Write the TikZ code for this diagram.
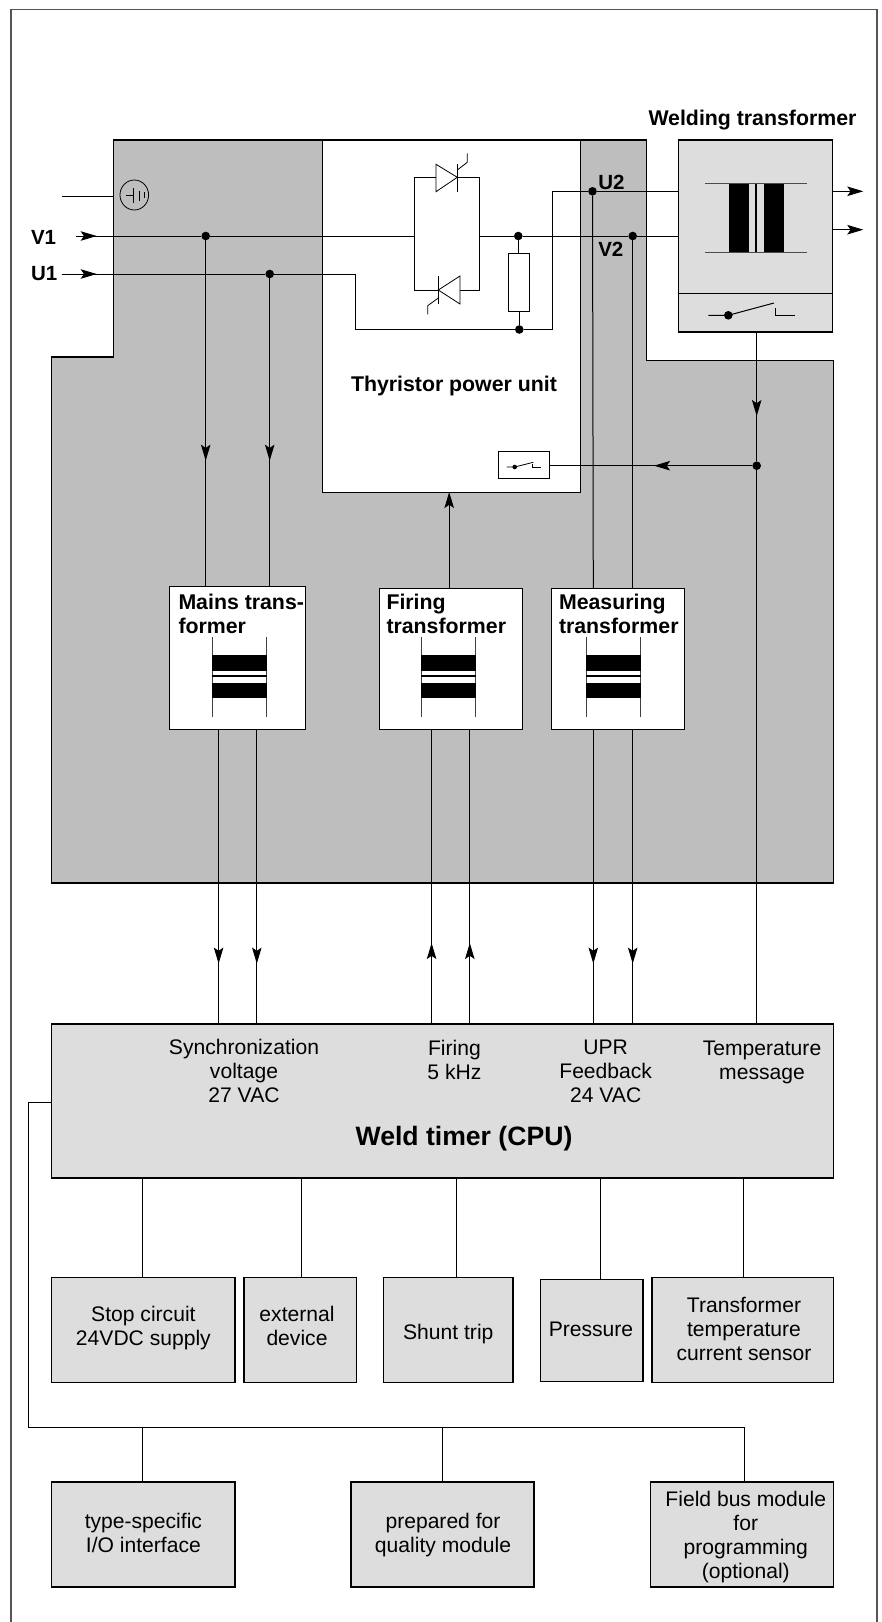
\documentclass[tikz,border=0pt]{standalone}
\usepackage{fontspec}
\setmainfont{Liberation Sans}
\usetikzlibrary{arrows.meta,shapes.geometric}
\definecolor{midgray}{HTML}{BEBEBE}
\definecolor{lightgray2}{HTML}{DDDDDD}
\definecolor{framegray}{HTML}{555555}
\newcommand{\boxat}[6]{%
  \pgfmathsetmacro{\bw}{#5-#3}\pgfmathsetmacro{\bh}{#6-#4}%
  \node[#1,anchor=north west,minimum width=\bw pt,minimum height=\bh pt] (#2) at (#3,#4) {};}
\tikzset{
  x=1pt,y=-1pt,
  wire/.style={line width=1pt,black},
  thin wire/.style={line width=0.8pt,black},
  tip/.style={-{Stealth[length=16pt,width=9.5pt,inset=3.2pt]}},
  grayunit/.style={fill=midgray,draw=black,line width=1.5pt},
  whitebox/.style={draw=black,fill=white,line width=1pt,inner sep=0pt,outer sep=0pt},
  lightbox/.style={draw=black,fill=lightgray2,line width=1.4pt,inner sep=0pt,outer sep=0pt},
  lbl/.style={font=\fontsize{21.1}{23.8}\selectfont,align=center,anchor=base,inner sep=0pt,outer sep=0pt},
  blbl/.style={font=\fontsize{21.3}{23.8}\selectfont\bfseries,align=left,anchor=base west,inner sep=0pt,outer sep=0pt},
  dotn/.style={circle,fill=black,draw=none,minimum size=8.6pt,inner sep=0pt,outer sep=0pt},
  core/.style={fill=black,draw=none},
}
\begin{document}
\begin{tikzpicture}
\useasboundingbox (0,0) rectangle (881,1622);
\fill[white] (0,0) rectangle (881,1622);
% outer frame
\draw[line width=1.6pt,framegray] (10.7,1622) -- (10.7,9.6) -- (877,9.6) -- (877,1622);
% gray unit
\fill[midgray] (113.5,140) -- (646.7,140) -- (646.7,360.7) -- (833.7,360.7) -- (833.7,883) -- (51.7,883) -- (51.7,356.8) -- (113.5,356.8) -- cycle;
\boxat{whitebox}{thy}{322.5}{140}{580}{492}
\draw[grayunit,fill=none] (113.5,140) -- (646.7,140) -- (646.7,360.7) -- (833.7,360.7) -- (833.7,883) -- (51.7,883) -- (51.7,356.8) -- (113.5,356.8) -- cycle;
% welding transformer
\boxat{lightbox}{weld}{678.4}{140}{832.7}{332}
\boxat{whitebox}{sw}{498.3}{451.7}{549}{478.3}
\draw[line width=1.4pt] (weld.west |- 0,293.7) -- (weld.east |- 0,293.7);
% transformers
\boxat{whitebox}{mains}{169.3}{586}{305}{729.3}
\boxat{whitebox}{firing}{379}{588.6}{522}{729.3}
\boxat{whitebox}{meas}{551.7}{588.6}{684}{729.3}
% CPU and peripherals
\boxat{lightbox}{cpu}{51.7}{1024}{833.7}{1178}
\boxat{lightbox}{stop}{51.7}{1277.7}{235}{1382.3}
\boxat{lightbox}{ext}{244}{1277.7}{356.3}{1382.3}
\boxat{lightbox}{shunt}{383.4}{1277.7}{513}{1382.3}
\boxat{lightbox}{press}{540.3}{1279.3}{643}{1381.7}
\boxat{lightbox}{sensor}{652}{1277.7}{833.7}{1382.3}
\boxat{lightbox}{io}{51.7}{1482}{235}{1587}
\boxat{lightbox}{qual}{351}{1482}{534}{1587}
\boxat{lightbox}{fbus}{650.4}{1482}{833.7}{1587}
% x positions
\foreach \n/\v in {xa/205.7,xb/269.7,xc/218.6,xd/256.8,xe/431.6,xf/469.8,xg/593.3,xh/632.7,xi/756.7,xj/449.2,
  ya/142.9,yb/301.3,yc/456.4,yd/600.8,ye/743.5,za/142.3,zb/442.3,zc/744.2}
  \coordinate (\n) at (\v,0);
% junctions
\node[dotn] (jv1) at (205.7,236) {};
\node[dotn] (ju1) at (269.7,274) {};
\node[dotn] (jr1) at (518.3,236) {};
\node[dotn] (jr2) at (519.3,329.5) {};
\node[dotn] (ju2) at (592.5,191.3) {};
\node[dotn] (jv2) at (632.7,236) {};
\node[dotn] (jt) at (756.7,465.7) {};
% input lines
\coordinate (v1s) at (76,236); \coordinate (v1t) at (96.7,236);
\coordinate (u1s) at (61.7,274); \coordinate (u1t) at (96.7,274);
\coordinate (gs) at (61.7,196.3); \coordinate (ge) at (113.5,196.3);
\draw[wire] (gs) -- (ge);
\draw[wire] (v1s) -- (jv1) -- (414.3,236);
\draw[wire,tip] (v1s) -- (v1t);
\draw[wire,tip] (u1s) -- (u1t);
% thyristor bridge
\coordinate (br) at (479.3,236);
\draw[wire] (414.3,177.3) rectangle (479.3,290);
\draw[wire] (br) -- (jr1) -- (jv2) -- (jv2 -| weld.west);
\node[draw=black,fill=white,line width=1pt,inner sep=0pt,outer sep=0pt,minimum width=21pt,minimum height=57.7pt] (res) at (518.5,282.2) {};
\draw[wire] (jr1) -- (res.north -| jr1);
\draw[wire] (res.south -| jr2) -- (jr2);
\coordinate (u1a) at (355.5,274); \coordinate (u1b) at (355.5,329.5); \coordinate (u2a) at (552,329.5); \coordinate (u2b) at (552,191.3);
\draw[wire] (u1s) -- (ju1) -- (u1a) -- (u1b) -- (jr2) -- (u2a) -- (u2b) -- (ju2) -- (ju2 -| weld.west);
% thyristors
\fill[white] (436,164.3) -- (457.3,177.3) -- (436,191.7) -- cycle;
\draw[thin wire] (436,164.3) -- (457.3,177.3) -- (436,191.7) -- cycle;
\draw[thin wire] (457.3,164) -- (457.3,192);
\draw[thin wire] (457.3,170) -- (467.3,162.3) -- (467.3,153.3);
\fill[white] (460,276) -- (438.3,290) -- (460,304) -- cycle;
\draw[thin wire] (460,276) -- (438.3,290) -- (460,304) -- cycle;
\draw[thin wire] (438.3,276) -- (438.3,304);
\draw[thin wire] (438.3,298) -- (427.7,305.7) -- (427.7,314.3);
% ground symbol
\node[draw=black,ellipse,line width=0.8pt,minimum width=28.6pt,minimum height=30pt,inner sep=0pt] (gnd) at (134.3,195) {};
\draw[thin wire] (126,195) -- (133,195) (133,188) -- (133,203) (139,190.7) -- (139,200.7);
\draw[line width=0.6pt] (144,192) -- (144,198);
% vertical lines in the unit
\coordinate (a1) at (205.7,460.7); \coordinate (a2) at (269.7,460.7);
\draw[wire] (jv1) -- (mains.north -| xa); \draw[wire,tip] (jv1) -- (a1);
\draw[wire] (ju1) -- (mains.north -| xb); \draw[wire,tip] (ju1) -- (a2);
\draw[wire,tip] (firing.north -| xj) -- (thy.south -| xj);
\draw[wire] (ju2) -- (meas.north -| xg);
\draw[wire] (jv2) -- (meas.north -| xh);
% temperature line
\coordinate (tt) at (756.7,416);
\draw[wire] (weld.south -| xi) -- (jt) -- (cpu.north -| xi);
\draw[wire,tip] (weld.south -| xi) -- (tt);
\coordinate (ta) at (654,465.7);
\draw[wire] (jt) -- (sw.east |- jt);
\draw[wire,tip] (jt) -- (ta);
% down / up arrows to CPU
\foreach \b/\x in {mains/xc,mains/xd,meas/xg,meas/xh}{
  \coordinate (m) at (\x |- 0,963.6);
  \draw[wire] (\b.south -| \x) -- (cpu.north -| \x);
  \draw[wire,tip] (\b.south -| \x) -- (m);
}
\foreach \x in {xe,xf}{
  \coordinate (m) at (\x |- 0,943);
  \draw[wire] (cpu.north -| \x) -- (firing.south -| \x);
  \draw[wire,tip] (cpu.north -| \x) -- (m);
}
% CPU to peripherals
\draw[wire] (cpu.south -| ya) -- (stop.north -| ya);
\draw[wire] (cpu.south -| yb) -- (ext.north -| yb);
\draw[wire] (cpu.south -| yc) -- (shunt.north -| yc);
\draw[wire] (cpu.south -| yd) -- (press.north -| yd);
\draw[wire] (cpu.south -| ye) -- (sensor.north -| ye);
% bus
\coordinate (b0) at (51.7,1102.5); \coordinate (b1) at (28,1102.5); \coordinate (b2) at (28,1427); \coordinate (b3) at (744.2,1427);
\draw[wire] (b0) -- (b1) -- (b2) -- (b3) -- (fbus.north -| zc);
\draw[wire] (b2 -| za) -- (io.north -| za);
\draw[wire] (b2 -| zb) -- (qual.north -| zb);
% transformer symbols
\draw[line width=1pt,black!70] (705,183.7) -- (807.3,183.7) (705,252) -- (807.3,252);
\fill[core] (728.7,183.7) rectangle (748.7,252);
\fill[core] (763.7,183.7) rectangle (783.7,252);
\draw[line width=1.8pt] (756,183.7) -- (756,252);
\foreach \dx in {212,421.6,586.9}{
  \begin{scope}[shift={(\dx,0)}]
  \draw[line width=1pt,black!75] (0,636.7) -- (0,716.7) (54,636.7) -- (54,716.7);
  \fill[core] (-0.5,655.3) rectangle (54.5,670.7);
  \fill[core] (-0.5,682.7) rectangle (54.5,698.3);
  \draw[line width=1.4pt] (-0.5,676) -- (54.5,676);
  \end{scope}
}
% outputs
\coordinate (o1) at (863.3,191.3); \coordinate (o2) at (863.3,229.7);
\draw[wire,tip] (o1 -| weld.east) -- (o1);
\draw[wire,tip] (o2 -| weld.east) -- (o2);
% switches
\draw[wire] (708.3,315.3) -- (728.3,315.3) -- (774,303);
\draw[wire] (775.3,308.3) -- (775.3,315.3) -- (795.3,315.3);
\node[dotn] (swd) at (728.3,315.3) {};
\draw[thin wire] (506.7,467) -- (514.7,467) -- (533.3,462.3);
\draw[thin wire] (532.7,464.3) -- (532.7,467) -- (541,467);
\node[dotn,minimum size=4.6pt] (swe) at (514.7,467) {};
% labels
\node[blbl,font=\fontsize{20.5}{22}\selectfont\bfseries] (tV1) at (31,244.6) {V1};
\node[blbl,font=\fontsize{20.5}{22}\selectfont\bfseries] (tU1) at (31,280.4) {U1};
\node[blbl,font=\fontsize{20.5}{22}\selectfont\bfseries] (tU2) at (598.3,189) {U2};
\node[blbl,font=\fontsize{20.5}{22}\selectfont\bfseries] (tV2) at (598.3,256) {V2};
\node[blbl] (tW) at (648.5,125) {Welding transformer};
\node[blbl] (tT) at (351,391.8) {Thyristor power unit};
\node[blbl] (tM) at (178.5,633.5) {Mains trans-\\former};
\node[blbl] (tF) at (386.5,633.5) {Firing\\transformer};
\node[blbl] (tMe) at (559,633.5) {Measuring\\transformer};
\node[lbl] (t1) at (244,1102) {Synchronization\\voltage\\27 VAC};
\node[lbl] (t2) at (454.4,1079) {Firing\\5 kHz};
\node[lbl] (t3) at (605.7,1102) {UPR\\Feedback\\24 VAC};
\node[lbl] (t4) at (762,1079) {Temperature\\message};
\node[lbl,font=\fontsize{26.6}{30}\selectfont\bfseries] (t5) at (464,1145.5) {Weld timer (CPU)};
\node[lbl] (t6) at (143.4,1345) {Stop circuit\\24VDC supply};
\node[lbl] (t7) at (297,1345) {external\\device};
\node[lbl] (t8) at (448.3,1339) {Shunt trip};
\node[lbl] (t9) at (591,1336) {Pressure};
\node[lbl] (t10) at (744,1360) {Transformer\\temperature\\current sensor};
\node[lbl] (t11) at (143.4,1552.7) {type-specific\\I/O interface};
\node[lbl] (t12) at (443,1552.7) {prepared for\\quality module};
\node[lbl] (t13) at (745.8,1578.3) {Field bus module\\for\\programming\\(optional)};
\end{tikzpicture}
\end{document}
